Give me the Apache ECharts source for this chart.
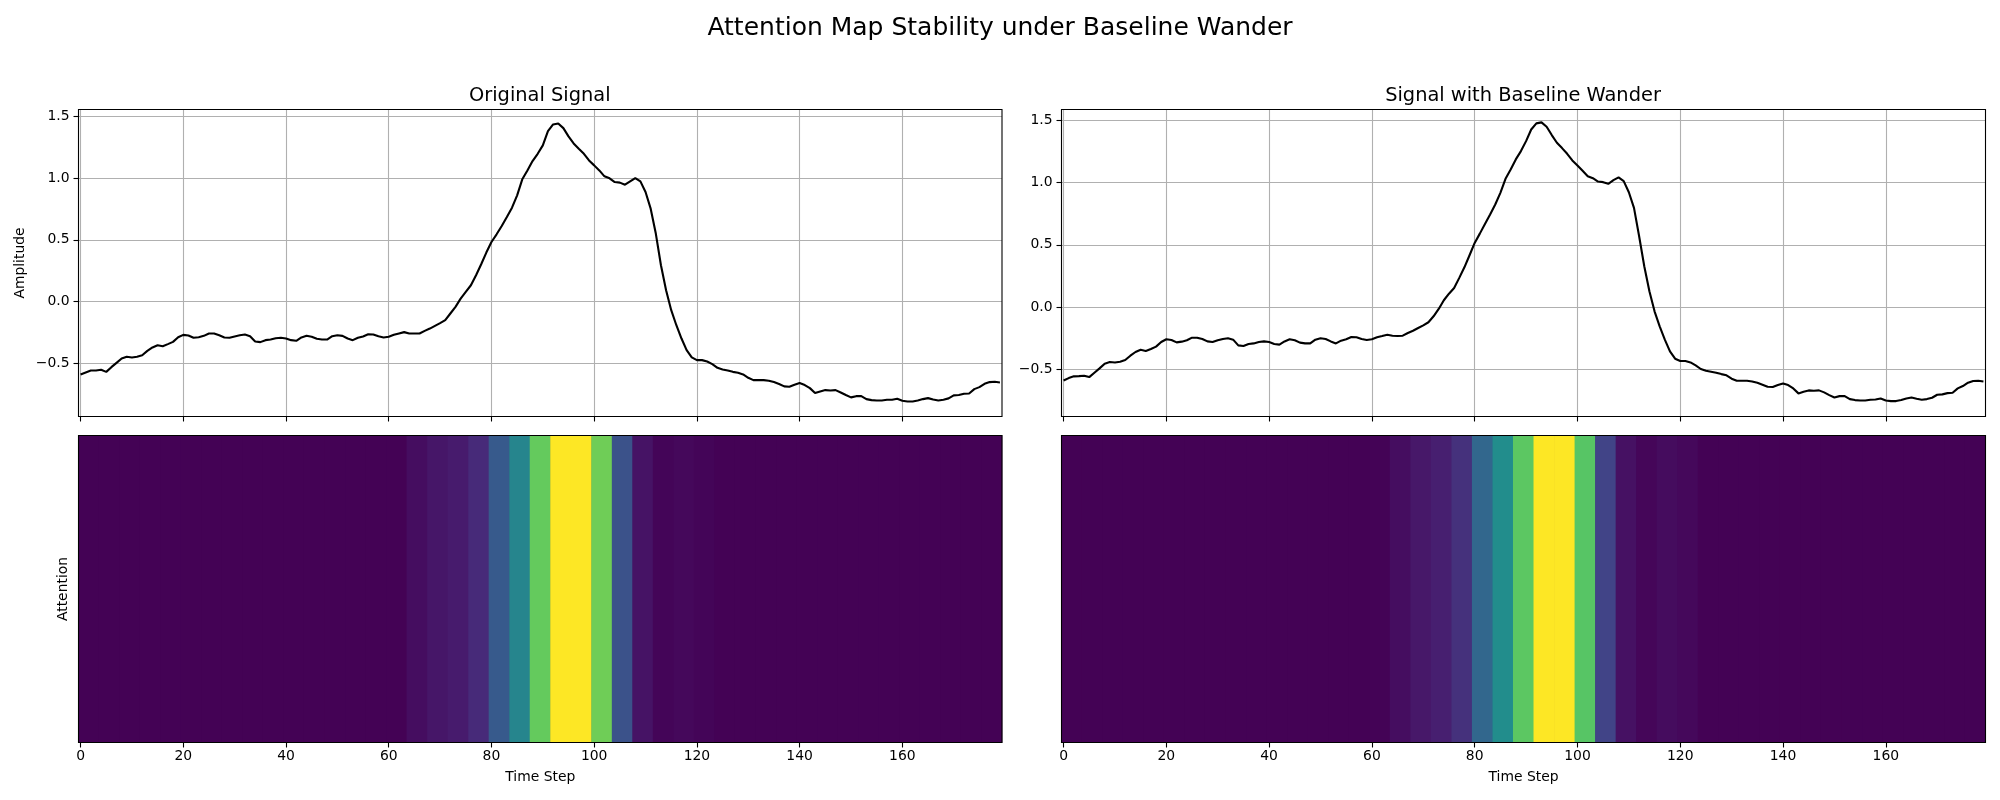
<!DOCTYPE html>
<html><head><meta charset="utf-8">
<style>html,body{margin:0;padding:0;background:#fff}#c{width:2000px;height:800px}</style>
<script src="https://cdn.jsdelivr.net/npm/echarts@6/dist/echarts.min.js"></script>
</head><body><div id="c"></div>
<script>
const chartTitle = 'Attention Map Stability under Baseline Wander';
const panelTitles = ['Original Signal', 'Signal with Baseline Wander'];
const xTicks = [0,20,40,60,80,100,120,140,160];
const yTicks = [-0.5,0,0.5,1,1.5];
const originalSignal = [-0.591,-0.575,-0.559,-0.559,-0.553,-0.57,-0.532,-0.497,-0.462,-0.448,-0.453,-0.448,-0.435,-0.4,-0.372,-0.354,-0.362,-0.345,-0.327,-0.29,
-0.27,-0.275,-0.294,-0.289,-0.278,-0.259,-0.259,-0.273,-0.291,-0.294,-0.283,-0.273,-0.267,-0.281,-0.324,-0.329,-0.313,-0.308,-0.297,-0.294,
-0.3,-0.313,-0.318,-0.291,-0.278,-0.286,-0.302,-0.308,-0.308,-0.281,-0.273,-0.278,-0.3,-0.313,-0.294,-0.283,-0.265,-0.267,-0.281,-0.291,
-0.286,-0.27,-0.259,-0.248,-0.259,-0.259,-0.259,-0.238,-0.219,-0.197,-0.175,-0.151,-0.097,-0.043,0.024,0.078,0.132,0.213,0.302,0.397,
0.483,0.545,0.613,0.686,0.761,0.861,0.991,1.063,1.139,1.198,1.266,1.382,1.436,1.444,1.406,1.339,1.282,1.239,1.198,1.144,
1.104,1.063,1.015,0.999,0.969,0.964,0.947,0.974,1.001,0.974,0.888,0.753,0.551,0.294,0.092,-0.07,-0.192,-0.3,-0.394,-0.453,
-0.475,-0.475,-0.486,-0.507,-0.537,-0.551,-0.559,-0.57,-0.578,-0.591,-0.618,-0.637,-0.637,-0.637,-0.642,-0.653,-0.669,-0.688,-0.691,-0.675,
-0.661,-0.677,-0.702,-0.742,-0.729,-0.718,-0.721,-0.718,-0.737,-0.758,-0.777,-0.767,-0.767,-0.791,-0.799,-0.802,-0.802,-0.796,-0.796,-0.788,
-0.804,-0.81,-0.81,-0.802,-0.791,-0.783,-0.794,-0.802,-0.796,-0.785,-0.761,-0.758,-0.748,-0.745,-0.71,-0.694,-0.667,-0.653,-0.65,-0.656];
const wanderSignal = [-0.591,-0.572,-0.558,-0.556,-0.553,-0.564,-0.529,-0.494,-0.456,-0.443,-0.446,-0.44,-0.427,-0.392,-0.362,-0.344,-0.354,-0.338,-0.319,-0.282,
-0.26,-0.266,-0.285,-0.279,-0.268,-0.247,-0.247,-0.258,-0.277,-0.282,-0.268,-0.258,-0.252,-0.263,-0.309,-0.314,-0.298,-0.293,-0.282,-0.277,
-0.282,-0.298,-0.303,-0.277,-0.26,-0.268,-0.287,-0.293,-0.293,-0.263,-0.252,-0.258,-0.277,-0.293,-0.271,-0.26,-0.242,-0.244,-0.258,-0.266,
-0.26,-0.244,-0.234,-0.223,-0.231,-0.234,-0.231,-0.209,-0.191,-0.169,-0.148,-0.123,-0.075,-0.016,0.054,0.107,0.153,0.234,0.319,0.416,
0.515,0.59,0.668,0.744,0.824,0.918,1.031,1.106,1.187,1.254,1.334,1.428,1.477,1.485,1.45,1.383,1.321,1.278,1.232,1.179,
1.138,1.095,1.052,1.036,1.009,1.004,0.991,1.02,1.042,1.012,0.923,0.797,0.569,0.328,0.126,-0.035,-0.156,-0.263,-0.357,-0.416,
-0.435,-0.435,-0.446,-0.47,-0.499,-0.513,-0.521,-0.529,-0.54,-0.55,-0.577,-0.593,-0.593,-0.593,-0.599,-0.609,-0.625,-0.642,-0.644,-0.628,
-0.615,-0.628,-0.655,-0.695,-0.682,-0.671,-0.674,-0.671,-0.687,-0.709,-0.728,-0.717,-0.717,-0.741,-0.749,-0.752,-0.752,-0.746,-0.744,-0.736,
-0.752,-0.757,-0.757,-0.749,-0.736,-0.728,-0.738,-0.746,-0.741,-0.73,-0.706,-0.703,-0.693,-0.69,-0.655,-0.636,-0.609,-0.596,-0.593,-0.599];
const originalAttention = [0.002,0.002,0.002,0.002,0.002,0.002,0.002,0.002,0.002,0.002,0.002,0.002,0.002,0.002,0.002,0.003,
0.035,0.06,0.075,0.12,0.28,0.45,0.76,1,1,0.78,0.25,0.05,0.012,0.02,0.012,0.004,
0.002,0.002,0.002,0.002,0.002,0.002,0.002,0.002,0.002,0.002,0.002,0.002,0.002];
const wanderAttention = [0.002,0.002,0.002,0.002,0.002,0.002,0.002,0.002,0.002,0.002,0.002,0.002,0.002,0.002,0.002,0.006,
0.035,0.065,0.085,0.14,0.33,0.485,0.745,1,1,0.735,0.2,0.045,0.015,0.03,0.02,0.004,
0.002,0.002,0.002,0.002,0.002,0.002,0.002,0.002,0.002,0.002,0.002,0.002,0.002];
const viridis = ['#440154','#482475','#414487','#355f8d','#2a788e','#21918c','#22a884','#44bf70','#7ad151','#bddf26','#fde725'];
const attentionCells = originalAttention.map((_, i) => String(i));

const font = 'DejaVu Sans';
const cols = [{left:78.5,width:923.5,ymin:-0.932,ymax:1.557},{left:1061.5,width:924,ymin:-0.881,ymax:1.5885}];
const lineTop = 109.5, lineH = 307, heatTop = 435.5, heatH = 307;
const fmtY = v => v.toFixed(1).replace('-', '\u2212');
const label = {color:'#000',fontFamily:font,fontSize:13.9};
const stepAxis = (gridIndex, showLabels, name) => ({
  type:'value', gridIndex, min:-0.4, max:179.4, position:'bottom',
  name, nameLocation:'middle', nameGap:28, nameTextStyle:{color:'#000',fontFamily:font,fontSize:13.9},
  axisLine:{show:false,onZero:false},
  axisTick:{show:true,length:5,customValues:xTicks,lineStyle:{color:'#000',width:1.1}},
  axisLabel:{show:showLabels,customValues:xTicks,...label,margin:7},
  splitLine:{show:!showLabels,lineStyle:{color:'#b0b0b0',width:1.1}}
});

const grid=[], xAxis=[], yAxis=[], series=[], graphicEls=[], titles=[];
titles.push({text:chartTitle,left:1000,top:16,padding:0,textAlign:'center',textStyle:{color:'#000',fontFamily:font,fontWeight:'normal',fontSize:25}});
cols.forEach((c,p)=>{
  const g0=p*2, g1=p*2+1;
  grid.push({left:c.left,top:lineTop,width:c.width,height:lineH,containLabel:false});
  grid.push({left:c.left,top:heatTop,width:c.width,height:heatH,containLabel:false,show:true,backgroundColor:'#440154',borderWidth:0});
  titles.push({text:panelTitles[p],left:c.left+c.width/2-0.5,top:86,padding:0,textAlign:'center',textStyle:{color:'#000',fontFamily:font,fontWeight:'normal',fontSize:19.4}});
  const lx=xAxis.length; xAxis.push(stepAxis(g0,false));
  const ly=yAxis.length; yAxis.push({type:'value',gridIndex:g0,min:c.ymin,max:c.ymax,
    name:p===0?'Amplitude':'',nameLocation:'middle',nameGap:51,nameTextStyle:{color:'#000',fontFamily:font,fontSize:13.9},
    axisLine:{show:false,onZero:false},
    axisTick:{show:true,length:5,customValues:yTicks,lineStyle:{color:'#000',width:1.1}},
    axisLabel:{customValues:yTicks,formatter:fmtY,...label,margin:9,padding:[2,0,0,0]},
    splitLine:{show:true,lineStyle:{color:'#b0b0b0',width:1.1}}});
  series.push({type:'line',xAxisIndex:lx,yAxisIndex:ly,showSymbol:false,smooth:false,animation:false,
    lineStyle:{color:'#000',width:2.1},itemStyle:{color:'#000'},
    data:(p===0?originalSignal:wanderSignal).map((v,i)=>[i,v]),z:5});
  const hc=xAxis.length; xAxis.push({type:'category',gridIndex:g1,data:attentionCells,show:false});
  const hv=xAxis.length; xAxis.push(stepAxis(g1,true,'Time Step'));
  const hy=yAxis.length; yAxis.push({type:'category',gridIndex:g1,data:['Attention'],show:p===0,
    name:p===0?'Attention':'',nameLocation:'middle',nameGap:8,nameTextStyle:{color:'#000',fontFamily:font,fontSize:13.9},
    axisLine:{show:false,onZero:false},axisTick:{show:false},axisLabel:{show:false},splitLine:{show:false}});
  series.push({type:'heatmap',xAxisIndex:hc,yAxisIndex:hy,animation:false,silent:true,
    data:(p===0?originalAttention:wanderAttention).map((v,i)=>[i,0,v]),z:2});
  [[lineTop,lineH],[heatTop,heatH]].forEach(([t,h])=>graphicEls.push({type:'rect',z:100,silent:true,
    shape:{x:c.left,y:t,width:c.width,height:h},style:{fill:'none',stroke:'#000',lineWidth:1.1}}));
});

const chart = echarts.init(document.getElementById('c'),null,{renderer:'canvas'});
chart.setOption({
  animation:false, backgroundColor:'#fff',
  title:titles, grid, xAxis, yAxis, series,
  tooltip:{show:false},
  visualMap:{show:false,type:'continuous',min:0,max:1,seriesIndex:[1,3],inRange:{color:viridis}},
  graphic:graphicEls
});
</script></body></html>
